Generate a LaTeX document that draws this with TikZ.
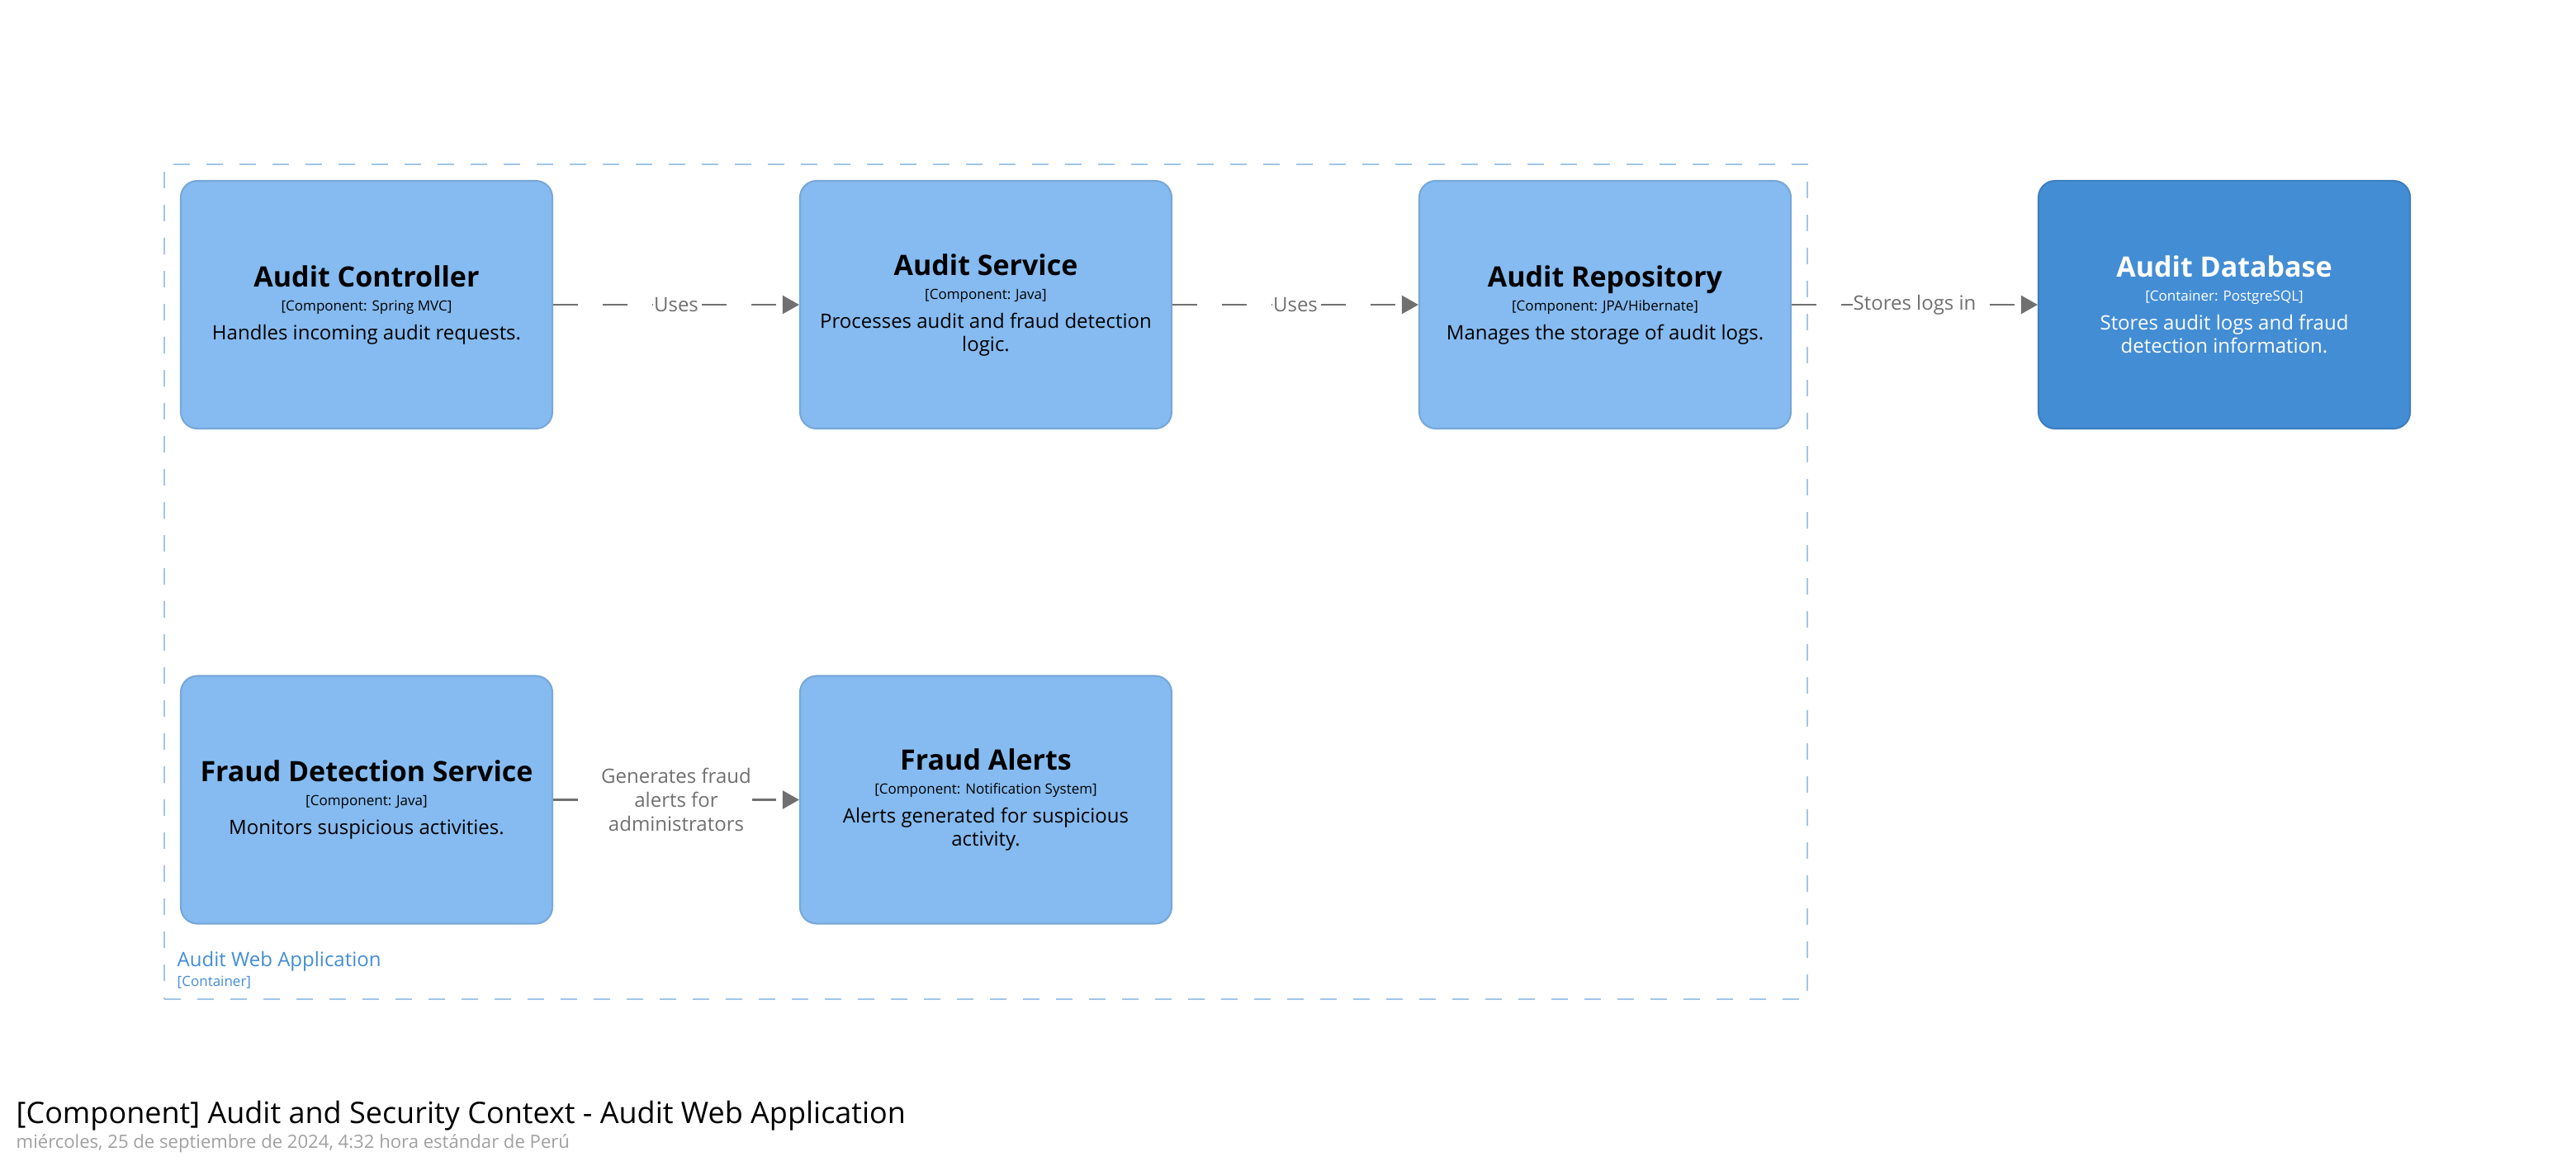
\documentclass[tikz,border=0pt]{standalone}
\usepackage{fontspec}
\setmainfont{Open Sans}
\usetikzlibrary{arrows.meta}
\definecolor{compfill}{HTML}{85BBF0}
\definecolor{compborder}{HTML}{78A8D8}
\definecolor{dbfill}{HTML}{438DD5}
\definecolor{dbborder}{HTML}{3C7FC0}
\definecolor{relgray}{HTML}{707070}
\definecolor{boundaryblue}{HTML}{A1C6EA}
\definecolor{labelblue}{HTML}{438DD5}
\definecolor{dategray}{HTML}{A0A0A0}

\newcommand{\namefont}{\fontsize{9.67pt}{11pt}\selectfont\bfseries}
\newcommand{\techfont}{\fontsize{4.84pt}{6pt}\selectfont}
\newcommand{\descfont}{\fontsize{6.83pt}{7.97pt}\selectfont}

\tikzset{
  component/.style={draw=compborder, fill=compfill, line width=0.6pt, rounded corners=0.2cm,
    minimum width=4.5cm, minimum height=3cm, align=center, font=\descfont, inner sep=0pt},
  database/.style={component, draw=dbborder, fill=dbfill, text=white},
  rel/.style={draw=relgray, line width=0.7pt, dash pattern=on 0.3cm off 0.3cm,
    -{Triangle[length=0.2cm,width=0.22cm]}},
  rellabel/.style={fill=white, text=relgray, inner sep=0.2pt, font=\descfont, align=center},
  boundary/.style={draw=boundaryblue, line width=0.6pt, dash pattern=on 0.2cm off 0.2cm,
    minimum width=19.9cm, minimum height=10.11cm, inner sep=0pt}
}

\begin{document}
\begin{tikzpicture}
            \useasboundingbox (0,0) rectangle (31.2,-14.11);

            % Container boundary
            \node[boundary] (webapp) at (11.94,-7.045) {};
            \node[anchor=base west, text=labelblue, font=\descfont, inner sep=0pt] (webappname) at (2.14,-11.70) {Audit Web Application};
            \node[anchor=base west, text=labelblue, font=\techfont, inner sep=0pt] (webapptech) at (2.14,-11.94) {[Container]};

            % Components
            \node[component] (ctrl) at (4.44,-3.69) {\namefont Audit Controller\\[0.28pt]\techfont [Component: Spring MVC]\\[2pt]\descfont Handles incoming audit requests.};
            \node[component] (svc) at (11.94,-3.69) {\namefont Audit Service\\[0.28pt]\techfont [Component: Java]\\[2pt]\descfont Processes audit and fraud detection\\\descfont logic.};
            \node[component] (repo) at (19.44,-3.69) {\namefont Audit Repository\\[0.28pt]\techfont [Component: JPA/Hibernate]\\[2pt]\descfont Manages the storage of audit logs.};
            \node[component] (fraud) at (4.44,-9.685) {\namefont Fraud Detection Service\\[0.28pt]\techfont [Component: Java]\\[2pt]\descfont Monitors suspicious activities.};
            \node[component] (alerts) at (11.94,-9.685) {\namefont Fraud Alerts\\[0.28pt]\techfont [Component: Notification System]\\[2pt]\descfont Alerts generated for suspicious\\\descfont activity.};

            % Database
            \node[database] (db) at (26.94,-3.69) {\namefont Audit Database\\[0.28pt]\techfont [Container: PostgreSQL]\\[2pt]\descfont Stores audit logs and fraud\\\descfont detection information.};

            % Relationships
            \draw[rel] (ctrl) -- (svc) node[midway, rellabel] (uses1) {Uses};
            \draw[rel] (svc) -- (repo) node[midway, rellabel] (uses2) {Uses};
            \draw[rel] (repo) -- (db) node[midway, rellabel] (stores) {Stores logs in};
            \draw[rel] (fraud) -- (alerts) node[midway, rellabel, font=\fontsize{6.83pt}{8.25pt}\selectfont] (generates) {Generates fraud\\alerts for\\administrators};

            % Title
            \node[anchor=base west, font=\fontsize{10.24pt}{12pt}\selectfont, inner sep=0pt] (title) at (0.19,-13.60) {[Component] Audit and Security Context - Audit Web Application};
            \node[anchor=base west, text=dategray, font=\fontsize{6.29pt}{7.5pt}\selectfont, inner sep=0pt] (date) at (0.19,-13.90) {miércoles, 25 de septiembre de 2024, 4:32 hora estándar de Perú};

\end{tikzpicture}
\end{document}
